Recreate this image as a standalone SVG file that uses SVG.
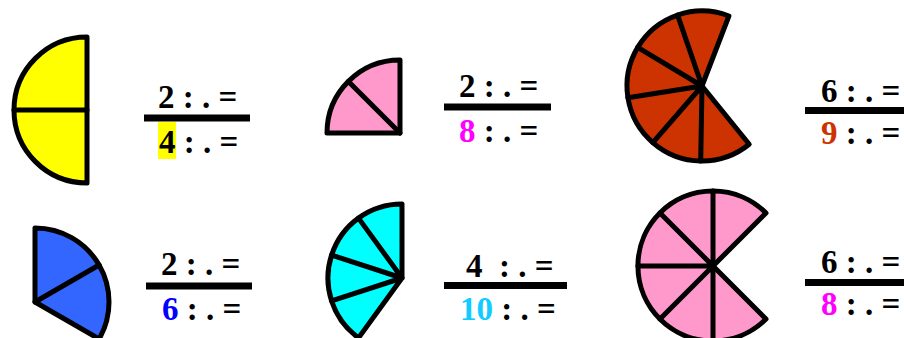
<svg xmlns="http://www.w3.org/2000/svg" width="904" height="338" viewBox="0 0 904 338">
<style>
.pie{stroke:#000;stroke-width:5;stroke-linejoin:round;stroke-linecap:round}
.div{stroke:#000;stroke-width:5;stroke-linecap:round;fill:none}
.t{font-family:"Liberation Serif","Times New Roman",serif;font-weight:bold;font-size:33px;fill:#000;white-space:pre}
.bar{fill:#000}
</style>
<rect width="904" height="338" fill="#fff"/>
<g id="pie1">
<path class="pie" fill="#ffff00" d="M87,37 A73,73 0 0 0 87,183 Z"/>
<path class="div" d="M14,110 L87,110"/>
</g>
<g id="frac1">
<text class="t" x="158" y="108">2 : . =</text>
<rect class="bar" x="144" y="114.5" width="106" height="7"/>
<rect x="158" y="122" width="18" height="37" fill="#ffff00"/>
<text class="t" x="159" y="153">4 : . =</text>
</g>
<g id="pie2">
<path class="pie" fill="#ff99cc" d="M400,133 L400,60 A73,73 0 0 0 327,133 Z"/>
<path class="div" d="M400,133 L348.4,81.4"/>
</g>
<g id="frac2">
<text class="t" x="459" y="97">2 : . =</text>
<rect class="bar" x="444" y="103.5" width="107" height="7"/>
<text class="t" x="459" y="142"><tspan fill="#ff00ff">8</tspan> : . =</text>
</g>
<g id="pie3">
<path class="pie" fill="#cc3300" d="M702,86 L749.2,144.3 A75,75 0 1 1 728.9,16 Z"/>
<path class="div" d="M702,86 L700.7,161 M702,86 L652.8,142.6 M702,86 L627.9,97.7 M702,86 L637.7,47.4 M702,86 L677.6,15.1"/>
</g>
<g id="frac3">
<text class="t" x="821" y="102">6 : . =</text>
<rect class="bar" x="805" y="107" width="99" height="7"/>
<text class="t" x="821" y="144"><tspan fill="#cc3300">9</tspan> : . =</text>
</g>
<g id="pie4">
<path class="pie" fill="#3366ff" d="M35,302 L35,228 A74,74 0 0 1 99.1,339 Z"/>
<path class="div" d="M35,302 L99.1,265"/>
</g>
<g id="frac4">
<text class="t" x="161" y="275">2 : . =</text>
<rect class="bar" x="146" y="282.5" width="106" height="7"/>
<text class="t" x="162" y="320"><tspan fill="#0000ff">6</tspan> : . =</text>
</g>
<g id="pie5">
<path class="pie" fill="#00ffff" d="M402,278 L402,204 A74,74 0 0 0 358.5,337.9 Z"/>
<path class="div" d="M402,278 L358.5,218.1 M402,278 L331.6,255.1 M402,278 L331.6,300.9"/>
</g>
<g id="frac5">
<text class="t" x="466" y="277">4  : . =</text>
<rect class="bar" x="444" y="282" width="123" height="7"/>
<text class="t" x="460" y="320"><tspan fill="#11ccff">10</tspan> : . =</text>
</g>
<g id="pie6">
<path class="pie" fill="#ff99cc" d="M713,266 L766,319 A75,75 0 1 1 766,213 Z"/>
<path class="div" d="M713,266 L713,341 M713,266 L660,319 M713,266 L638,266 M713,266 L660,213 M713,266 L713,191"/>
</g>
<g id="frac6">
<text class="t" x="821" y="273">6 : . =</text>
<rect class="bar" x="805" y="279" width="99" height="7"/>
<text class="t" x="821" y="315"><tspan fill="#ff00ff">8</tspan> : . =</text>
</g>
</svg>
